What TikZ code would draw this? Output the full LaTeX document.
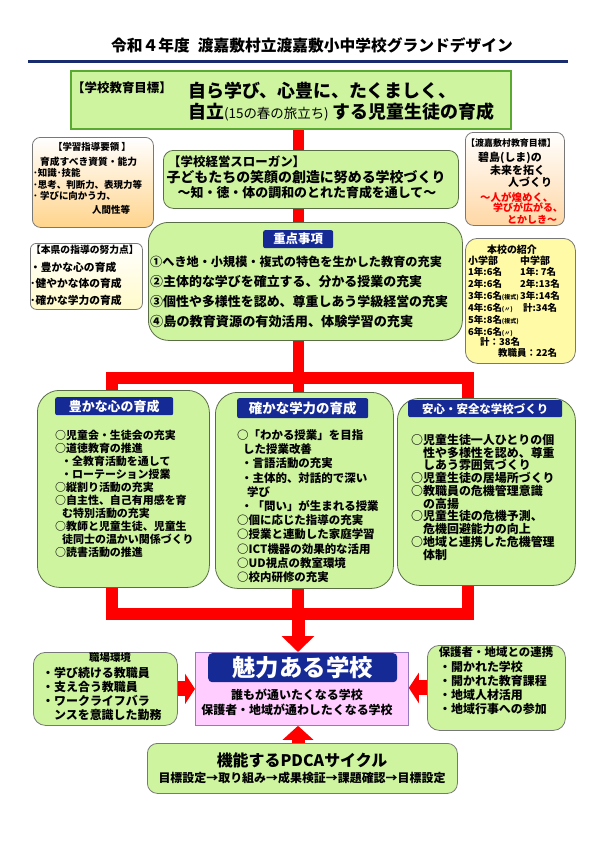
\documentclass[tikz,border=0pt]{standalone}
\usepackage{fontspec}
\setmainfont{Noto Sans CJK JP}
\usetikzlibrary{arrows.meta}
\pgfdeclarelayer{background}
\pgfsetlayers{background,main}
\definecolor{gfill}{RGB}{206,244,160}
\definecolor{gline}{RGB}{90,110,70}
\definecolor{topline}{RGB}{90,170,50}
\definecolor{navy}{RGB}{22,42,150}
\definecolor{rulenavy}{RGB}{25,45,110}
\definecolor{pinkfill}{RGB}{255,205,255}
\definecolor{pinkline}{RGB}{150,120,190}
\definecolor{orangeb}{RGB}{255,212,140}
\definecolor{peachb}{RGB}{255,215,165}
\definecolor{yellowb}{RGB}{255,250,200}
\definecolor{introfill}{RGB}{255,250,165}
\definecolor{grayline}{RGB}{120,120,120}
\newcommand\fsz[2]{\fontsize{#1}{#2}\selectfont}
\begin{document}
\begin{tikzpicture}[x=1bp,y=-1bp,
  bx/.style={draw=gline,line width=0.8bp,inner sep=0,anchor=north west},
  gbox/.style={bx,fill=gfill},
  hdr/.style={fill=navy,inner sep=0,anchor=north west,rounded corners=2bp,text=white},
  t/.style={inner sep=0,anchor=west,align=left},
  tl/.style={inner sep=0,anchor=north west,align=left},
  tc/.style={inner sep=0,anchor=center,align=center},
  redbar/.style={draw=red,line width=12bp},
]
\useasboundingbox (0,0) rectangle (595,841);

% title
\node[tc,font=\fsz{15.8}{18}\bfseries] (title) at (312,45) {令和４年度\hspace{8bp}渡嘉敷村立渡嘉敷小中学校グランドデザイン};
\coordinate (ruleL) at (28,61.5);
\coordinate (ruleR) at (568,61.5);
\draw[rulenavy,line width=3.2bp] (ruleL) -- (ruleR);

% school goal
\node[gbox,draw=topline,line width=2bp,minimum width=440bp,minimum height=58bp] (goalbox) at (70,70) {};
\node[t,font=\fsz{12.5}{14}\bfseries] (goalhdr) at (72,88) {【学校教育目標】};
\node[tl,font=\fsz{18}{20.5}\bfseries] (goaltxt) at (188,82) {自ら学び、心豊に、たくましく、\\自立{\mdseries\fsz{13.5}{14}(15の春の旅立ち)}\hspace{4bp}する児童生徒の育成};

% slogan
\node[gbox,rounded corners=10bp,minimum width=295bp,minimum height=58bp] (slogan) at (163,150) {};
\node[t,font=\fsz{12.5}{14}\bfseries] (slhdr) at (168,162) {【学校経営スローガン】};
\node[tc,font=\fsz{14}{16}\bfseries] (sl1) at (306,177) {子どもたちの笑顔の創造に努める学校づくり};
\node[tc,font=\fsz{13}{15}\bfseries] (sl2) at (307,193) {～知・徳・体の調和のとれた育成を通して～};

% gakushu shidou yoryo
\node[bx,draw=grayline,top color=white,bottom color=orangeb,rounded corners=8bp,minimum width=121bp,minimum height=90bp] (shidou) at (32,137) {};
\node[tc,font=\fsz{9.5}{11}\bfseries] (sh1) at (92,147) {【学習指導要領 】};
\node[t,font=\fsz{9.8}{11}\bfseries] (sh2) at (40,162) {育成すべき資質・能力};
\node[tl,font=\fsz{9.5}{11.5}\bfseries] (sh3) at (33,168.2) {･知識･技能\\･思考、判断力、表現力等\\･ 学びに向かう力、};
\node[t,font=\fsz{9.5}{11}\bfseries] (sh6) at (92,210) {人間性等};

% village goal
\node[bx,draw=grayline,top color=white,bottom color=peachb,rounded corners=8bp,minimum width=99bp,minimum height=93bp] (village) at (465,132) {};
\node[tc,font=\fsz{9}{10}\bfseries] (v1) at (511,143) {【渡嘉敷村教育目標】};
\node[t,font=\fsz{11}{12}\bfseries] (v2) at (478,158) {碧島(しま)の};
\node[t,font=\fsz{11}{12}\bfseries] (v3) at (490,170) {未来を拓く};
\node[t,font=\fsz{11}{12}\bfseries] (v4) at (508,182) {人づくり};
\node[t,text=red,font=\fsz{10.5}{12}\bfseries] (v5) at (480,197) {～人が煌めく、};
\node[t,text=red,font=\fsz{10}{12}\bfseries] (v6) at (493,208) {学びが広がる、};
\node[t,text=red,font=\fsz{10}{12}\bfseries] (v7) at (507,220) {とかしき～};

% honken
\node[bx,draw=grayline,top color=white,bottom color=yellowb,rounded corners=6bp,minimum width=112bp,minimum height=66bp] (honken) at (30,243) {};
\node[t,font=\fsz{9.8}{11}\bfseries] (hk0) at (31,250) {【本県の指導の努力点】};
\node[tl,font=\fsz{10.8}{16.5}\bfseries] (hk1) at (30,261.6) {・豊かな心の育成\\･健やかな体の育成\\･確かな学力の育成};

% juten
\node[gbox,rounded corners=20bp,minimum width=314bp,minimum height=118bp] (juten) at (148,222) {};
\node[hdr,minimum width=70bp,minimum height=18bp,font=\fsz{12.5}{14}\bfseries] (jutenh) at (263,230) {重点事項};
\node[tl,font=\fsz{12.2}{20}\bfseries] (jutenitems) at (150,255.9) {①へき地・小規模・複式の特色を生かした教育の充実\\{\fsz{13}{20}②主体的な学びを確立する、分かる授業の充実}\\{\fsz{13}{20}③個性や多様性を認め、尊重しあう学級経営の充実}\\{\fsz{13.2}{20}④島の教育資源の有効活用、体験学習の充実}};

% school intro
\node[bx,draw=grayline,fill=introfill,rounded corners=12bp,minimum width=110bp,minimum height=125bp] (intro) at (465,238) {};
\node[tc,font=\fsz{10}{11}\bfseries] (in0) at (512,250) {本校の紹介};
\node[tl,font=\fsz{9.5}{12}\bfseries] (inL) at (468,255.25) {{\fsz{10}{12}小学部}\\1年:6名\\2年:6名\\3年:6名{\fsz{6}{7}(複式)}\\4年:6名{\fsz{6}{7}(〃)}\\5年:8名{\fsz{6}{7}(複式)}\\6年:6名{\fsz{6}{7}(〃)}};
\node[tl,font=\fsz{9.5}{12}\bfseries] (inR) at (520,255.25) {{\fsz{10}{12}中学部}\\1年:\ 7名\\2年:13名\\3年:14名\\\hspace*{3bp}計:34名};
\node[t,font=\fsz{9.5}{11}\bfseries] (in8) at (480,342) {計：38名};
\node[t,font=\fsz{9.5}{11}\bfseries] (in9) at (498,353) {教職員：22名};

% three columns
\node[gbox,rounded corners=22bp,minimum width=172bp,minimum height=197bp] (leftcol) at (37,390) {};
\node[hdr,minimum width=118bp,minimum height=18bp,font=\fsz{13}{14}\bfseries] (lefth) at (55,397) {豊かな心の育成};
\node[tl,font=\fsz{11}{13.1}\bfseries] (lefttxt) at (55,429.5) {○児童会・生徒会の充実\\○道徳教育の推進\\\hspace*{6bp}・全教育活動を通して\\\hspace*{6bp}・ローテーション授業\\○縦割り活動の充実\\○自主性、自己有用感を育\\\hspace*{7bp}む特別活動の充実\\○教師と児童生徒、児童生\\\hspace*{7bp}徒同士の温かい関係づくり\\○読書活動の推進};

\node[gbox,rounded corners=22bp,minimum width=178bp,minimum height=196bp] (midcol) at (215,392) {};
\node[hdr,minimum width=131bp,minimum height=20bp,font=\fsz{13.5}{15}\bfseries] (midh) at (237,398) {確かな学力の育成};
\node[tl,font=\fsz{11.5}{14.3}\bfseries] (midtxt) at (237,429.25) {○「わかる授業」を目指\\\hspace*{6bp}した授業改善\\\hspace*{4bp}・言語活動の充実\\\hspace*{4bp}・主体的、対話的で深い\\\hspace*{10bp}学び\\\hspace*{4bp}・「問い」が生まれる授業\\○個に応じた指導の充実\\○授業と連動した家庭学習\\○ICT機器の効果的な活用\\○UD視点の教室環境\\○校内研修の充実};

\node[gbox,rounded corners=22bp,minimum width=178bp,minimum height=187bp] (rightcol) at (397,398) {};
\node[hdr,minimum width=154bp,minimum height=17bp,font=\fsz{11.5}{13}\bfseries] (righth) at (408,400) {安心・安全な学校づくり};
\node[tl,font=\fsz{12}{12.8}\bfseries] (righttxt) at (411,434) {○児童生徒一人ひとりの個\\　性や多様性を認め、尊重\\　しあう雰囲気づくり\\○児童生徒の居場所づくり\\○教職員の危機管理意識\\　の高揚\\○児童生徒の危機予測、\\　危機回避能力の向上\\○地域と連携した危機管理\\　体制};

% bottom
\node[bx,draw=pinkline,fill=pinkfill,minimum width=213bp,minimum height=73bp] (miryoku) at (195,652) {};
\node[hdr,rounded corners=4bp,minimum width=189bp,minimum height=29bp,font=\fsz{23.5}{26}\bfseries] (miryokuh) at (208,653) {魅力ある学校};
\node[tc,font=\fsz{12}{13}\bfseries] (mr1) at (297,695) {誰もが通いたくなる学校};
\node[tc,font=\fsz{12}{13}\bfseries] (mr2) at (297,710) {保護者・地域が通わしたくなる学校};

\node[gbox,draw=grayline,rounded corners=12bp,minimum width=144bp,minimum height=73bp] (shokuba) at (33,652) {};
\node[tc,font=\fsz{10.5}{12}\bfseries] (sb0) at (110,658) {職場環境};
\node[tl,font=\fsz{12}{14}\bfseries] (sb1) at (42,667) {・学び続ける教職員\\・支え合う教職員\\・ワークライフバラ\\　ンスを意識した勤務};

\node[gbox,draw=grayline,rounded corners=12bp,minimum width=138bp,minimum height=85bp] (hogosha) at (427,645) {};
\node[tc,font=\fsz{11.5}{13}\bfseries] (hg0) at (496,652) {保護者・地域との連携};
\node[tl,font=\fsz{12}{14}\bfseries] (hg1) at (439,661) {・開かれた学校\\・開かれた教育課程\\・地域人材活用\\・地域行事への参加};

\node[gbox,draw=grayline,rounded corners=10bp,minimum width=310bp,minimum height=50bp] (pdca) at (147,743) {};
\node[tc,font=\fsz{16}{18}\bfseries] (pd1) at (302,760) {機能するPDCAサイクル};
\node[tc,font=\fsz{12}{14}\bfseries] (pd2) at (302,778) {目標設定→取り組み→成果検証→課題確認→目標設定};

% red connectors
\coordinate (tx) at (298,0);
\coordinate (lx) at (112,0);
\coordinate (rx) at (468,0);
\coordinate (bar1L) at (106,378);
\coordinate (bar1R) at (474,378);
\coordinate (bar2L) at (106,614);
\coordinate (bar2R) at (474,614);
\coordinate (bar2C) at (298,614);
\begin{pgfonlayer}{background}
\fill[white] (0,0) rectangle (595,841);
\draw[red,line width=11bp] (goalbox.south -| tx) -- (midcol.north -| tx);
\draw[redbar] (bar1L) -- (bar1R);
\draw[redbar] (bar1L -| lx) -- (leftcol.north -| lx);
\draw[redbar] (bar1R -| rx) -- (rightcol.north -| rx);
\draw[redbar] (leftcol.south -| lx) -- (bar2L -| lx);
\draw[redbar] (midcol.south -| tx) -- (bar2C);
\draw[redbar] (rightcol.south -| rx) -- (bar2R -| rx);
\draw[redbar] (bar2L) -- (bar2R);
\draw[red,line width=13bp,-{Triangle[width=32bp,length=16bp]}] (bar2C) -- (miryoku.north -| tx);
\draw[red,line width=15bp,-{Triangle[width=30bp,length=10bp]}] (shokuba.east) -- (miryoku.west |- shokuba.east);
\draw[red,line width=15bp,-{Triangle[width=30bp,length=10bp]}] (hogosha.west) -- (miryoku.east |- hogosha.west);
\draw[red,line width=13bp,-{Triangle[width=30bp,length=14bp]}] (pdca.north -| tx) -- (miryoku.south -| tx);
\end{pgfonlayer}
\end{tikzpicture}
\end{document}
